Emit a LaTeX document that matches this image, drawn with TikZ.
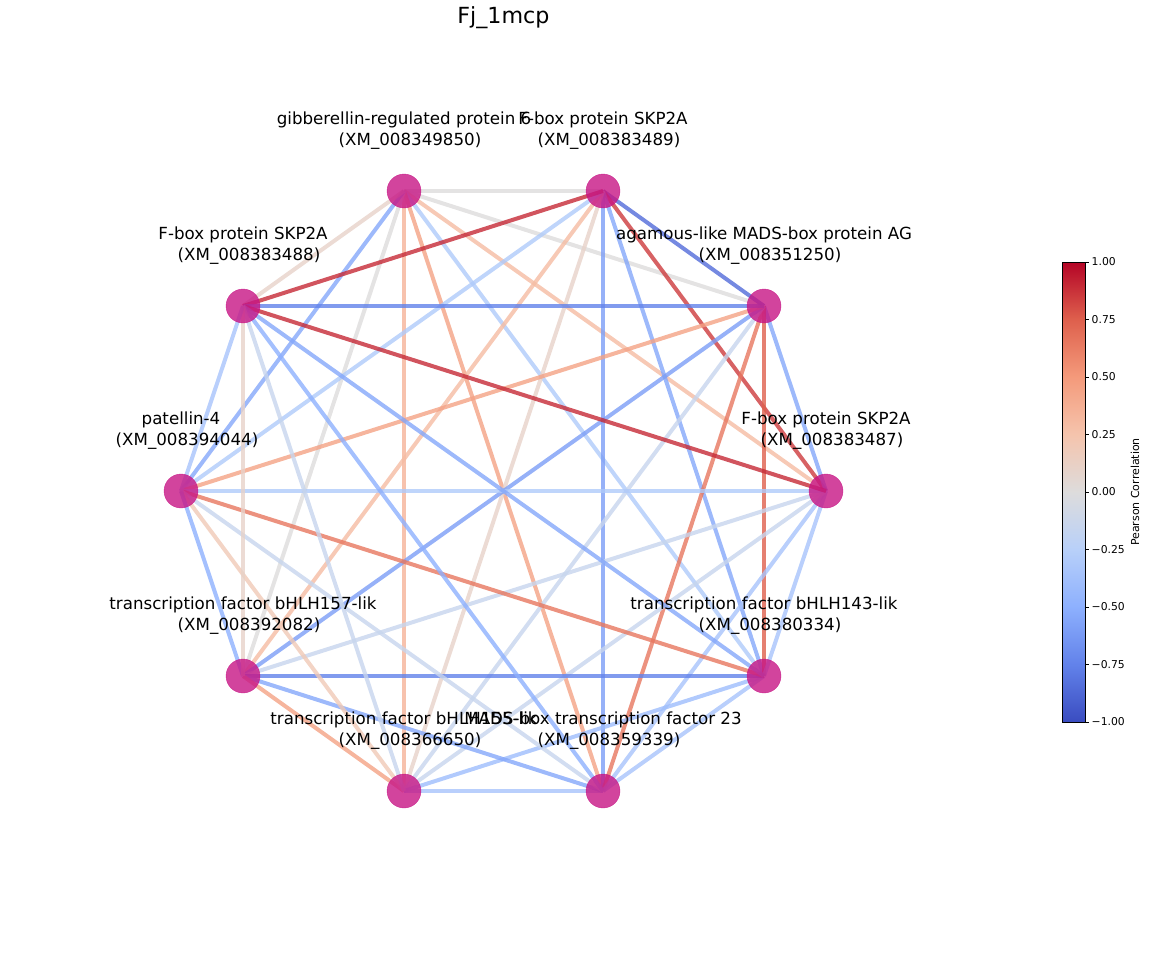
\documentclass[tikz,border=0pt]{standalone}
\usepackage{fontspec}
\setmainfont{DejaVu Sans}
\usetikzlibrary{backgrounds}

% coolwarm levels used by the edges
\definecolor{cwm85}{RGB}{82,108,217}
\definecolor{cwm75}{RGB}{98,130,234}
\definecolor{cwm60}{RGB}{124,158,246}
\definecolor{cwm55}{RGB}{132,167,250}
\definecolor{cwm50}{RGB}{141,176,254}
\definecolor{cwm40}{RGB}{158,189,252}
\definecolor{cwm35}{RGB}{167,195,251}
\definecolor{cwm30}{RGB}{175,202,250}
\definecolor{cwm15}{RGB}{199,213,237}
\definecolor{cwz00}{RGB}{221,220,220}
\definecolor{cwp10}{RGB}{231,210,201}
\definecolor{cwp20}{RGB}{240,201,182}
\definecolor{cwp30}{RGB}{245,188,163}
\definecolor{cwp35}{RGB}{245,179,153}
\definecolor{cwp45}{RGB}{244,162,133}
\definecolor{cwp65}{RGB}{231,119,95}
\definecolor{cwp75}{RGB}{222,96,77}
\definecolor{cwp85}{RGB}{205,59,61}
\definecolor{cwp90}{RGB}{197,41,54}
\definecolor{mvred}{RGB}{199,21,133}

\pgfdeclareverticalshading{coolwarm}{100bp}{rgb(0bp)=(0.227,0.298,0.753);
 rgb(25bp)=(0.227,0.298,0.753); rgb(31.25bp)=(0.384,0.510,0.918);
 rgb(37.5bp)=(0.553,0.690,0.996); rgb(43.75bp)=(0.722,0.816,0.976);
 rgb(50bp)=(0.867,0.863,0.863); rgb(56.25bp)=(0.961,0.769,0.678);
 rgb(62.5bp)=(0.957,0.604,0.482); rgb(68.75bp)=(0.871,0.376,0.302);
 rgb(75bp)=(0.706,0.016,0.149); rgb(100bp)=(0.706,0.016,0.149)}

% gene name over its accession
\newcommand{\genetext}[2]{#1\\\hspace*{12pt}(#2)}

\begin{document}
\begin{tikzpicture}[x=1pt,y=-1pt,
  gene/.style={circle, fill=mvred, draw=mvred, fill opacity=0.8, draw opacity=0.8,
    minimum size=34pt, inner sep=0pt},
  genelab/.style={align=center, inner sep=0pt, font=\fontsize{16.67}{21}\selectfont},
  corr/.style={line width=4pt, draw opacity=0.8},
  ticklab/.style={anchor=west, inner sep=0pt, font=\fontsize{10.8}{13}\selectfont}]
\useasboundingbox (0,0) rectangle (1149,962);

\node[font=\fontsize{22.2}{26}\selectfont] (title) at (503.5,17.5) {Fj\_1mcp};

% genes
\node[gene] (gib) at (404,191) {};
\node[gene] (skp489) at (603,191) {};
\node[gene] (agam) at (764,306) {};
\node[gene] (skp487) at (826,491) {};
\node[gene] (bhlh143) at (764,676) {};
\node[gene] (mads23) at (603,791) {};
\node[gene] (bhlh155) at (404,791) {};
\node[gene] (bhlh157) at (243,676) {};
\node[gene] (pat4) at (181,491) {};
\node[gene] (skp488) at (243,306) {};

\node[genelab] (gib-lab) at ([shift={(0,-60)}]gib) {\genetext{gibberellin-regulated protein 6}{XM\_008349850}};
\node[genelab] (skp489-lab) at ([shift={(0,-60)}]skp489) {\genetext{F-box protein SKP2A}{XM\_008383489}};
\node[genelab] (agam-lab) at ([shift={(0,-60)}]agam) {\genetext{agamous-like MADS-box protein AG}{XM\_008351250}};
\node[genelab] (skp487-lab) at ([shift={(0,-60)}]skp487) {\genetext{F-box protein SKP2A}{XM\_008383487}};
\node[genelab] (bhlh143-lab) at ([shift={(0,-60)}]bhlh143) {\genetext{transcription factor bHLH143-lik}{XM\_008380334}};
\node[genelab] (mads23-lab) at ([shift={(0,-60)}]mads23) {\genetext{MADS-box transcription factor 23}{XM\_008359339}};
\node[genelab] (bhlh155-lab) at ([shift={(0,-60)}]bhlh155) {\genetext{transcription factor bHLH155-lik}{XM\_008366650}};
\node[genelab] (bhlh157-lab) at ([shift={(0,-60)}]bhlh157) {\genetext{transcription factor bHLH157-lik}{XM\_008392082}};
\node[genelab] (pat4-lab) at ([shift={(0,-60)}]pat4) {\genetext{patellin-4}{XM\_008394044}};
\node[genelab] (skp488-lab) at ([shift={(0,-60)}]skp488) {\genetext{F-box protein SKP2A}{XM\_008383488}};

% correlations
\begin{scope}[on background layer]
\draw[corr, cwz00] (gib.center) -- (skp489.center);
\draw[corr, cwz00] (gib.center) -- (agam.center);
\draw[corr, cwp30] (gib.center) -- (skp487.center);
\draw[corr, cwm30] (gib.center) -- (bhlh143.center);
\draw[corr, cwp45] (gib.center) -- (mads23.center);
\draw[corr, cwp35] (gib.center) -- (bhlh155.center);
\draw[corr, cwz00] (gib.center) -- (bhlh157.center);
\draw[corr, cwm55] (gib.center) -- (pat4.center);
\draw[corr, cwp10] (gib.center) -- (skp488.center);
\draw[corr, cwm85] (skp489.center) -- (agam.center);
\draw[corr, cwp85] (skp489.center) -- (skp487.center);
\draw[corr, cwm55] (skp489.center) -- (bhlh143.center);
\draw[corr, cwm60] (skp489.center) -- (mads23.center);
\draw[corr, cwp10] (skp489.center) -- (bhlh155.center);
\draw[corr, cwp30] (skp489.center) -- (bhlh157.center);
\draw[corr, cwm30] (skp489.center) -- (pat4.center);
\draw[corr, cwp90] (skp489.center) -- (skp488.center);
\draw[corr, cwm55] (agam.center) -- (skp487.center);
\draw[corr, cwp75] (agam.center) -- (bhlh143.center);
\draw[corr, cwp65] (agam.center) -- (mads23.center);
\draw[corr, cwm15] (agam.center) -- (bhlh155.center);
\draw[corr, cwm60] (agam.center) -- (bhlh157.center);
\draw[corr, cwp45] (agam.center) -- (pat4.center);
\draw[corr, cwm75] (agam.center) -- (skp488.center);
\draw[corr, cwm35] (skp487.center) -- (bhlh143.center);
\draw[corr, cwm35] (skp487.center) -- (mads23.center);
\draw[corr, cwm15] (skp487.center) -- (bhlh155.center);
\draw[corr, cwm15] (skp487.center) -- (bhlh157.center);
\draw[corr, cwm30] (skp487.center) -- (pat4.center);
\draw[corr, cwp90] (skp487.center) -- (skp488.center);
\draw[corr, cwm35] (bhlh143.center) -- (mads23.center);
\draw[corr, cwm40] (bhlh143.center) -- (bhlh155.center);
\draw[corr, cwm75] (bhlh143.center) -- (bhlh157.center);
\draw[corr, cwp65] (bhlh143.center) -- (pat4.center);
\draw[corr, cwm55] (bhlh143.center) -- (skp488.center);
\draw[corr, cwm35] (mads23.center) -- (bhlh155.center);
\draw[corr, cwm55] (mads23.center) -- (bhlh157.center);
\draw[corr, cwm15] (mads23.center) -- (pat4.center);
\draw[corr, cwm50] (mads23.center) -- (skp488.center);
\draw[corr, cwp45] (bhlh155.center) -- (bhlh157.center);
\draw[corr, cwp20] (bhlh155.center) -- (pat4.center);
\draw[corr, cwm15] (bhlh155.center) -- (skp488.center);
\draw[corr, cwm50] (bhlh157.center) -- (pat4.center);
\draw[corr, cwp10] (bhlh157.center) -- (skp488.center);
\draw[corr, cwm35] (pat4.center) -- (skp488.center);
\end{scope}

% colour bar
\node[shading=coolwarm, draw=black, line width=0.8pt, minimum width=23pt,
  minimum height=460pt, inner sep=0pt] (cbar) at (1073.5,492) {};
\foreach \y/\t [count=\k] in {722/−1.00, 664.5/−0.75, 607/−0.50, 549.5/−0.25,
    492/0.00, 434.5/0.25, 377/0.50, 319.5/0.75, 262/1.00} {
  \draw[line width=0.8pt] (1085,\y) -- (1088.5,\y);
  \node[ticklab] (tick\k) at (1091.5,\y) {\t};
}
\node[rotate=90, font=\fontsize{11}{13}\selectfont] (cbar-lab) at (1135,492) {Pearson Correlation};
\end{tikzpicture}
\end{document}
